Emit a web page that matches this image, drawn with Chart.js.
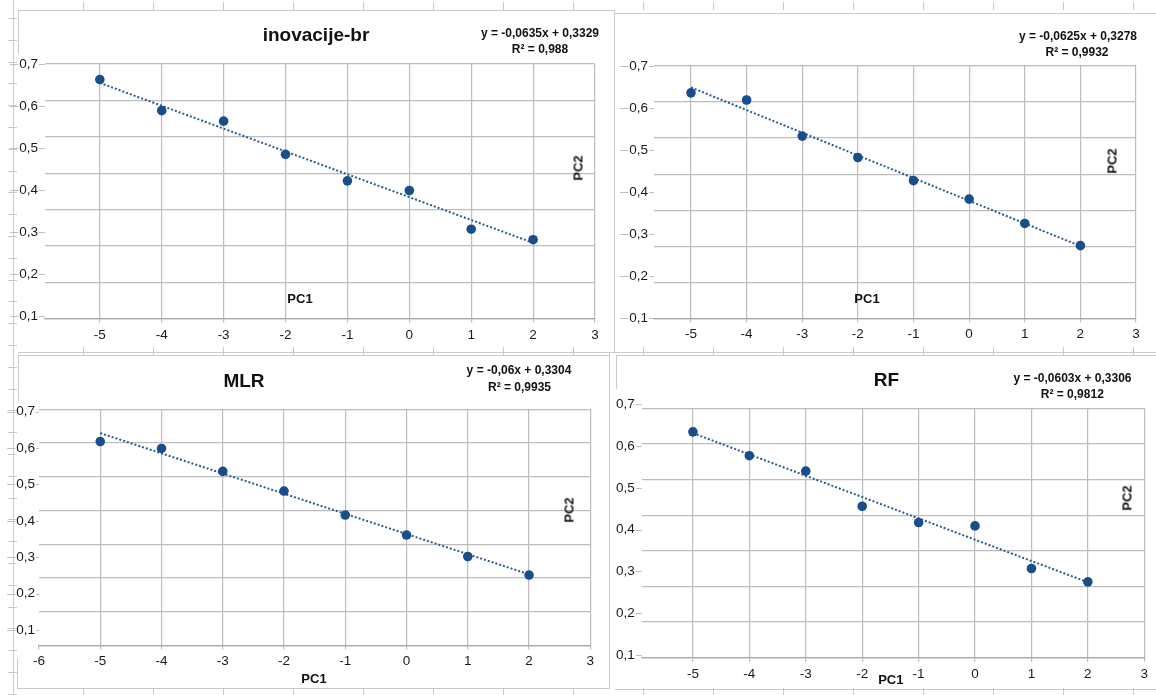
<!DOCTYPE html>
<html>
<head>
<meta charset="utf-8">
<script src="https://cdn.jsdelivr.net/npm/chart.js@4.4.1/dist/chart.umd.min.js"></script>
<style>
  html, body { margin: 0; padding: 0; background: #ffffff; }
  #stage { position: relative; width: 1156px; height: 695px; overflow: hidden; background: #fff; }
  .ln { position: absolute; background: #cacaca; }
  .box { position: absolute; }
  .txt { position: absolute; white-space: nowrap; color: #111;
         font-family: "Liberation Sans Narrow", "Liberation Sans", Arial, sans-serif; }
  .title { font-size: 19px; font-weight: bold; }
  .eq { font-size: 12px; font-weight: bold; }
  .ax { font-size: 13px; font-weight: bold; }
</style>
</head>
<body>
<div id="stage"></div>
<script>
// ---------------- data ----------------
const pc1 = [-5, -4, -3, -2, -1, 0, 1, 2];
const pc2Inovacije = [0.663, 0.589, 0.564, 0.485, 0.422, 0.399, 0.307, 0.282];
const pc2Second    = [0.636, 0.619, 0.533, 0.482, 0.427, 0.383, 0.325, 0.272];
const pc2MLR       = [0.618, 0.599, 0.536, 0.482, 0.416, 0.361, 0.302, 0.251];
const pc2RF        = [0.634, 0.577, 0.540, 0.456, 0.417, 0.409, 0.307, 0.275];

// dotted linear trendlines (values read at PC1 = -5 and PC1 = 2)
const trendX = [-5, 2];
const trendInovacije = [0.655, 0.2745];
const trendSecond    = [0.649, 0.271];
const trendMLR       = [0.641, 0.253];
const trendRF        = [0.631, 0.274];

const titles = ['inovacije-br', '', 'MLR', 'RF'];
const equations = ['y = -0,0635x + 0,3329', 'y = -0,0625x + 0,3278', 'y = -0,06x + 0,3304', 'y = -0,0603x + 0,3306'];
const rSquared = ['R² = 0,988', 'R² = 0,9932', 'R² = 0,9935', 'R² = 0,9812'];

const xTicksStd = [-5, -4, -3, -2, -1, 0, 1, 2, 3];
const xTicksMLR = [-6, -5, -4, -3, -2, -1, 0, 1, 2, 3];
const yTickValues = [0.1, 0.2, 0.3, 0.4, 0.5, 0.6, 0.7];
const yTickLabels = ['0,1', '0,2', '0,3', '0,4', '0,5', '0,6', '0,7'];
const xTitle = 'PC1';
const yTitle = 'PC2';

// ---------------- style ----------------
const FONT = '"Liberation Sans Narrow", "Liberation Sans", Arial, sans-serif';
const POINT = '#1A4E8A';
const TREND = '#2A5A96';
const GRID = '#bdbdbd';
const AXIS = '#a8a8a8';
const TICK = '#1a1a1a';
const gridSteps = [0, 1, 2, 3, 4, 5, 6, 7];

const stage = document.getElementById('stage');

function line(x, y, w, h) {
  const d = document.createElement('div');
  d.className = 'ln';
  d.style.left = x + 'px'; d.style.top = y + 'px';
  d.style.width = w + 'px'; d.style.height = h + 'px';
  stage.appendChild(d);
}
function text(cls, str, cx, cy, rot) {
  const d = document.createElement('div');
  d.className = 'txt ' + cls;
  d.textContent = str;
  d.style.left = cx + 'px'; d.style.top = cy + 'px';
  d.style.transform = 'translate(-50%,-50%)' + (rot ? ' rotate(-90deg)' : '');
  stage.appendChild(d);
}

// ---------- worksheet / frame decoration ----------
line(13, 0, 1, 695);
for (let y = 18; y < 695; y += 21.8) line(8, Math.round(y), 9, 1);
for (let k = 1; k <= 16; k++) {
  const x = 13 + 70 * k;
  line(x, 2, 1, 8);
  line(x, 347, 1, 8);
  line(x, 688, 1, 7);
}
// panel frames
line(18, 10, 596, 1); line(18, 10, 1, 44); line(614, 10, 1, 342);
line(614, 13, 542, 1);
line(18, 352, 1138, 1);
line(18, 355, 592, 1); line(18, 355, 1, 46); line(609, 352, 1, 336); line(17, 658, 1, 30); line(17, 688, 593, 1);
line(616, 355, 540, 1); line(616, 355, 1, 34); line(615, 689, 541, 1);

// ---------- plugin: grey rule through the y tick labels ----------
const yLabelLines = {
  id: 'yLabelLines',
  beforeDraw(chart) {
    const s = chart.scales.y;
    const ctx = chart.ctx;
    ctx.save();
    ctx.font = '13.5px ' + FONT;
    ctx.strokeStyle = GRID;
    ctx.lineWidth = 1;
    const pad = s.options.ticks.padding;
    s.ticks.forEach((t, i) => {
      const y = Math.round(s.getPixelForValue(t.value)) + 0.5;
      const lab = yTickLabels[i];
      const w = ctx.measureText(lab).width;
      const right = s.right - pad;
      const left = right - w;
      ctx.beginPath();
      ctx.moveTo(Math.max(0, left - 9), y); ctx.lineTo(left - 1, y);
      ctx.moveTo(right + 1, y); ctx.lineTo(chart.chartArea.left, y);
      ctx.stroke();
    });
    ctx.restore();
  }
};

// ---------- panels ----------
const panels = [
  { values: pc2Inovacije, trend: trendInovacije, xTicks: xTicksStd,
    box: [0, 10, 614, 335], padTop: 54, padRight: 19, yAxisW: 45, xAxisH: 26.3, yPad: 7,
    xMin: -5.886, yMin: 0.094, yMax: 0.7,
    titlePos: [316, 35], eq1: [540, 33], eq2: [540, 48.5], pc1Pos: [300, 298], pc2Pos: [578, 168] },
  { values: pc2Second, trend: trendSecond, xTicks: xTicksStd,
    box: [614, 13, 542, 332], padTop: 53, padRight: 20, yAxisW: 40, xAxisH: 26.7, yPad: 6,
    xMin: -5.665, yMin: 0.099, yMax: 0.7,
    titlePos: null, eq1: [1078, 35.7], eq2: [1077, 52.3], pc1Pos: [867, 298], pc2Pos: [1112, 161] },
  { values: pc2MLR, trend: trendMLR, xTicks: xTicksMLR,
    box: [4, 355, 606, 333], padTop: 54.3, padRight: 19.7, yAxisW: 35, xAxisH: 42.7, yPad: 4,
    xMin: -6, yMin: 0.058, yMax: 0.7066,
    titlePos: [244, 381], eq1: [519, 370], eq2: [519.5, 386.7], pc1Pos: [314, 677.7], pc2Pos: [569, 510] },
  { values: pc2RF, trend: trendRF, xTicks: xTicksStd,
    box: [616, 355, 540, 333], padTop: 53.3, padRight: 11.7, yAxisW: 25.8, xAxisH: 30.3, yPad: 7,
    xMin: -5.906, yMin: 0.0935, yMax: 0.6904,
    titlePos: [886.5, 380], eq1: [1072.5, 377.7], eq2: [1072.3, 394.3], pc1Pos: [890.8, 679], pc2Pos: [1127, 498] }
];

panels.forEach((p, idx) => {
  const holder = document.createElement('div');
  holder.className = 'box';
  holder.style.left = p.box[0] + 'px'; holder.style.top = p.box[1] + 'px';
  holder.style.width = p.box[2] + 'px'; holder.style.height = p.box[3] + 'px';
  const cv = document.createElement('canvas');
  holder.appendChild(cv);
  stage.appendChild(holder);

  new Chart(cv, {
    type: 'scatter',
    data: {
      datasets: [
        { data: pc1.map((x, i) => ({ x: x, y: p.values[i] })),
          backgroundColor: POINT, borderColor: POINT, pointRadius: 4.8, pointHoverRadius: 4.8,
          pointBorderWidth: 0, order: 1 },
        { data: trendX.map((x, i) => ({ x: x, y: p.trend[i] })),
          showLine: true, borderColor: TREND, borderWidth: 2, borderDash: [2, 2],
          pointRadius: 0, pointHoverRadius: 0, fill: false, order: 2 }
      ]
    },
    options: {
      responsive: true, maintainAspectRatio: false, animation: false, devicePixelRatio: 1,
      events: [],
      layout: { padding: { top: p.padTop, right: p.padRight, left: 0, bottom: 0 } },
      plugins: { legend: { display: false }, tooltip: { enabled: false }, title: { display: false } },
      scales: {
        x: {
          type: 'linear', min: p.xMin, max: 3,
          afterBuildTicks: a => { a.ticks = p.xTicks.map(v => ({ value: v })); },
          afterFit: s => { s.height = p.xAxisH; },
          grid: {
            color: c => (c.tick && c.tick.value < -5.5) ? 'rgba(0,0,0,0)' : GRID,
            lineWidth: 1.2, drawTicks: true, tickLength: 4, tickColor: GRID
          },
          border: { display: true, color: AXIS, width: 1.3 },
          ticks: { font: { family: FONT, size: 13.5 }, color: TICK, padding: 4, maxRotation: 0,
                   autoSkip: false, callback: v => String(v) }
        },
        y: {
          type: 'linear', position: 'left', min: p.yMin, max: p.yMax,
          afterBuildTicks: a => { a.ticks = yTickValues.map(v => ({ value: v })); },
          afterFit: s => { s.width = p.yAxisW; },
          grid: { display: false, drawTicks: false },
          border: { display: false },
          ticks: { font: { family: FONT, size: 13.5 }, color: TICK, padding: p.yPad, autoSkip: false,
                   callback: (v, i) => yTickLabels[i] }
        },
        yg: {
          type: 'linear', position: 'left', min: 0, max: 7,
          afterBuildTicks: a => { a.ticks = gridSteps.map(v => ({ value: v })); },
          afterFit: s => { s.width = 0; },
          grid: { color: GRID, lineWidth: 1.2, drawTicks: false },
          border: { display: false },
          ticks: { display: false }
        }
      }
    },
    plugins: [yLabelLines]
  });

  if (p.titlePos && titles[idx]) text('title', titles[idx], p.titlePos[0], p.titlePos[1]);
  text('eq', equations[idx], p.eq1[0], p.eq1[1]);
  text('eq', rSquared[idx], p.eq2[0], p.eq2[1]);
  text('ax', xTitle, p.pc1Pos[0], p.pc1Pos[1]);
  text('ax', yTitle, p.pc2Pos[0], p.pc2Pos[1], true);
});
</script>
</body>
</html>
